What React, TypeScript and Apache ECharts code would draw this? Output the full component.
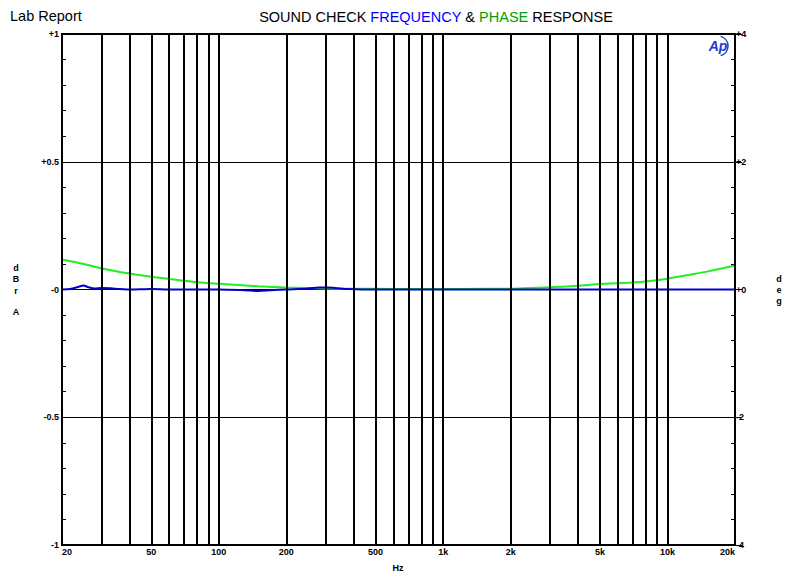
import React, { useEffect, useRef } from "react";
import * as echarts from "echarts";

const gridFreqs = [
  20, 30, 40, 50, 60, 70, 80, 90, 100, 200, 300, 400, 500, 600, 700, 800, 900,
  1000, 2000, 3000, 4000, 5000, 6000, 7000, 8000, 9000, 10000, 20000,
];
const xTickLabels: Record<number, string> = {
  20: "20", 50: "50", 100: "100", 200: "200", 500: "500",
  1000: "1k", 2000: "2k", 5000: "5k", 10000: "10k", 20000: "20k",
};
const leftTickLabels: Record<string, string> = {
  "1": "+1", "0.5": "+0.5", "0": "-0", "-0.5": "-0.5", "-1": "-1",
};
const rightTickLabels: Record<string, string> = {
  "4": "+4", "2": "+2", "0": "+0", "-2": "-2", "-4": "-4",
};

// Phase response (deg, right axis)
const phaseFreq = [20, 25, 30, 40, 50, 60, 80, 100, 150, 200, 300, 400, 500, 700, 1000, 1500, 2000, 3000, 4000, 5000, 7000, 8000, 10000, 12000, 15000, 20000];
const phaseDeg = [0.47, 0.4, 0.33, 0.25, 0.2, 0.165, 0.115, 0.09, 0.05, 0.03, 0.016, 0.012, 0.01, 0.008, 0.008, 0.01, 0.013, 0.035, 0.06, 0.085, 0.11, 0.125, 0.17, 0.22, 0.28, 0.375];

// Frequency response (dBr A, left axis)
const levelFreq = [20, 22, 24, 25, 26, 28, 30, 33, 36, 40, 50, 60, 80, 100, 130, 150, 170, 200, 250, 280, 300, 330, 380, 500, 1000, 5000, 20000];
const levelDb = [0, 0.003, 0.012, 0.016, 0.01, 0.004, 0.006, 0.005, 0.002, 0, 0.002, 0, 0, 0, -0.003, -0.006, -0.003, 0, 0.004, 0.008, 0.008, 0.006, 0.002, 0, 0, 0, 0];

const FONT = "Liberation Sans, Arial, sans-serif";

export default function App() {
  const ref = useRef<HTMLDivElement>(null);
  useEffect(() => {
    if (!ref.current) return;
    const chart = echarts.init(ref.current, null, { renderer: "svg" });
    const labelStyle = { color: "#000", fontSize: 9, fontWeight: "bold" as const, fontFamily: FONT };
    const firstF = gridFreqs[0];
    const lastF = gridFreqs[gridFreqs.length - 1];
    chart.setOption({
      animation: false,
      backgroundColor: "#fff",
      grid: { left: 62, right: 66, top: 34, bottom: 31, show: true, borderColor: "#000", borderWidth: 2, backgroundColor: "transparent" },
      xAxis: {
        type: "log", logBase: 10, min: 20, max: 20000,
        axisLabel: { show: false }, axisTick: { show: false }, splitLine: { show: false },
        axisLine: { show: false },
      },
      yAxis: [
        {
          type: "value", min: -1, max: 1, interval: 0.5, position: "left",
          axisLine: { show: true, lineStyle: { color: "#000", width: 2 } },
          axisTick: { show: true, inside: true, length: 4, lineStyle: { color: "#000" } },
          minorTick: { show: true, splitNumber: 5, length: 4, lineStyle: { color: "#000" } },
          splitLine: { show: true, lineStyle: { color: "#000", width: 1 } },
          axisLabel: { ...labelStyle, margin: 3, formatter: (v: number) => leftTickLabels[String(v)] ?? "" },
        },
        {
          type: "value", min: -4, max: 4, interval: 2, position: "right",
          axisLine: { show: true, lineStyle: { color: "#000", width: 2 } },
          axisTick: { show: true, inside: false, length: 7, lineStyle: { color: "#000" } },
          splitLine: { show: false },
          axisLabel: { ...labelStyle, margin: 1, formatter: (v: number) => rightTickLabels[String(v)] ?? "" },
        },
        {
          type: "value", min: -4, max: 4, interval: 2, position: "right",
          axisLine: { show: false },
          axisTick: { show: false, inside: true, length: 4 },
          minorTick: { show: true, splitNumber: 5, length: 4, lineStyle: { color: "#000" } },
          splitLine: { show: false },
          axisLabel: { show: false },
        },
      ],
      series: [
        {
          type: "line", data: [], z: 1, silent: true,
          markLine: {
            silent: true, symbol: "none", animation: false,
            lineStyle: { color: "#000", width: 2, type: "solid" },
            label: { show: false },
            data: gridFreqs.map((f) => ({
              xAxis: f,
              label: xTickLabels[f]
                ? {
                    show: true, position: "start", formatter: xTickLabels[f], distance: 2, ...labelStyle,
                    align: f === firstF ? "left" : f === lastF ? "right" : "center",
                  }
                : { show: false },
            })),
          },
        },
        {
          name: "Phase", type: "line", yAxisIndex: 1, z: 3, symbol: "none", smooth: 0.3,
          lineStyle: { color: "#22ee22", width: 2 }, itemStyle: { color: "#22ee22" },
          data: phaseFreq.map((f, i) => [f, phaseDeg[i]]),
        },
        {
          name: "Level", type: "line", yAxisIndex: 0, z: 4, symbol: "none", smooth: 0.3,
          lineStyle: { color: "#0000cc", width: 2 }, itemStyle: { color: "#0000cc" },
          data: levelFreq.map((f, i) => [f, levelDb[i]]),
        },
      ],
      graphic: [
        { type: "text", left: 10, top: 8, style: { text: "Lab Report", font: `14.5px ${FONT}`, fill: "#000" } },
        {
          type: "text", x: 436, y: 9,
          style: {
            text: "{k|SOUND CHECK }{b|FREQUENCY}{k| & }{g|PHASE}{k| RESPONSE}",
            align: "center",
            rich: {
              k: { fill: "#000", fontSize: 14.5, fontFamily: FONT },
              b: { fill: "#0000ff", fontSize: 14.5, fontFamily: FONT },
              g: { fill: "#00a000", fontSize: 14.5, fontFamily: FONT },
            },
          },
        },
        { type: "text", x: 16, y: 268, style: { text: "d", font: `bold 9px ${FONT}`, fill: "#000", align: "center", verticalAlign: "middle" } },
        { type: "text", x: 16, y: 279, style: { text: "B", font: `bold 9px ${FONT}`, fill: "#000", align: "center", verticalAlign: "middle" } },
        { type: "text", x: 16, y: 291, style: { text: "r", font: `bold 9px ${FONT}`, fill: "#000", align: "center", verticalAlign: "middle" } },
        { type: "text", x: 16, y: 312, style: { text: "A", font: `bold 9px ${FONT}`, fill: "#000", align: "center", verticalAlign: "middle" } },
        { type: "text", x: 779, y: 279, style: { text: "d", font: `bold 9px ${FONT}`, fill: "#000", align: "center", verticalAlign: "middle" } },
        { type: "text", x: 779, y: 290, style: { text: "e", font: `bold 9px ${FONT}`, fill: "#000", align: "center", verticalAlign: "middle" } },
        { type: "text", x: 779, y: 301, style: { text: "g", font: `bold 9px ${FONT}`, fill: "#000", align: "center", verticalAlign: "middle" } },
        { type: "text", x: 398, y: 568, style: { text: "Hz", font: `bold 9px ${FONT}`, fill: "#000", align: "center", verticalAlign: "middle" } },
        { type: "text", x: 718, y: 46, style: { text: "Ap", font: `italic bold 14px ${FONT}`, fill: "#1a3ccc", align: "center", verticalAlign: "middle" } },
        { type: "arc", shape: { cx: 718, cy: 46, r: 10, startAngle: -1.3, endAngle: 1.3 }, style: { stroke: "#1a3ccc", lineWidth: 1.5, fill: "none" } },
      ],
    });
    return () => chart.dispose();
  }, []);
  return <div ref={ref} style={{ width: 801, height: 576, position: "absolute", left: 0, top: 0 }} />;
}
